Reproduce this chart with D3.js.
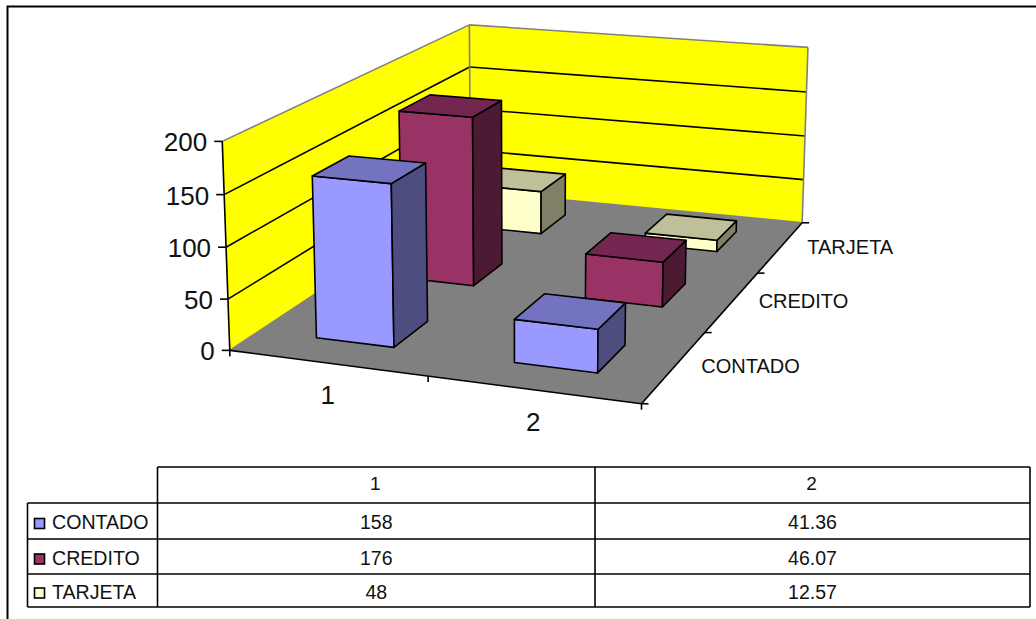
<!DOCTYPE html>
<html><head><meta charset="utf-8">
<script src="https://cdnjs.cloudflare.com/ajax/libs/d3/7.8.5/d3.min.js"></script>
<style>html,body{margin:0;padding:0;background:#fff;overflow:hidden}svg{display:block}text{font-family:"Liberation Sans",Arial,sans-serif;fill:#111}</style>
</head><body><svg id="c" width="1036" height="619"></svg>
<script>
// ---- data ----
const categories = ["1", "2"];
const seriesNames = ["CONTADO", "CREDITO", "TARJETA"];
const contado = [158, 41.36];
const credito = [176, 46.07];
const tarjeta = [48, 12.57];
const cellLabels = [["158", "41.36"], ["176", "46.07"], ["48", "12.57"]];
const valueTicks = [0, 50, 100, 150, 200];
const colFront = ["#9999FF", "#993366", "#FFFFCC"];
const colTop = ["#7373BF", "#732650", "#BFBF99"];
const colSide = ["#4D4D80", "#4D1A33", "#808066"];

const seriesValues = [contado, credito, tarjeta];
const svg = d3.select("#c");

// ---- projection calibrated from the plot box corners (u,v,w -> px) ----
const calib = [
  [0,0,0, 230.5,351],[1,0,0, 641,404],[1,1,0, 802.5,222],[0,1,0, 470,191],
  [0,0,1, 222,140.5],[0,1,1, 469.5,25],[1,1,1, 808,48]
];
function solve(A, b) {
  const n = b.length, M = A.map((r,i)=>[...r,b[i]]);
  for (let i=0;i<n;i++){
    let p=i; for(let k=i+1;k<n;k++) if(Math.abs(M[k][i])>Math.abs(M[p][i])) p=k;
    [M[i],M[p]]=[M[p],M[i]];
    for(let k=0;k<n;k++){ if(k===i) continue; const f=M[k][i]/M[i][i];
      for(let j=i;j<=n;j++) M[k][j]-=f*M[i][j]; }
  }
  return M.map((r,i)=>r[n]/r[i]);
}
const rows=[], rhs=[];
calib.forEach(([u,v,w,x,y])=>{
  rows.push([u,v,w,1,0,0,0,0,-x*u,-x*v,-x*w]); rhs.push(x);
  rows.push([0,0,0,0,u,v,w,1,-y*u,-y*v,-y*w]); rhs.push(y);
});
const ATA=d3.range(11).map(i=>d3.range(11).map(j=>d3.sum(rows,r=>r[i]*r[j])));
const ATb=d3.range(11).map(i=>d3.sum(rows,(r,k)=>r[i]*rhs[k]));
const m=solve(ATA,ATb);
function proj(u,v,w){
  const d=m[8]*u+m[9]*v+m[10]*w+1;
  return [(m[0]*u+m[1]*v+m[2]*w+m[3])/d,(m[4]*u+m[5]*v+m[6]*w+m[7])/d];
}

// ---- scales ----
const xBand=d3.scaleBand().domain(categories).range([0,1]).paddingInner(0.6).paddingOuter(0.3);
const zBand=d3.scaleBand().domain(seriesNames).range([0,1]).paddingInner(0.6).paddingOuter(0.3);
const xCenter=d3.scalePoint().domain(categories).range([0,1]).padding(0.5);
const zCenter=d3.scalePoint().domain(seriesNames).range([0,1]).padding(0.5);
const yS=d3.scaleLinear().domain([0,200]).range([0,1]);
const depthDx=d3.scaleLinear().domain([1/6,5/6]).range([-16,-10]);
const depthDy=d3.scaleLinear().domain([1/6,5/6]).range([-4,-2]);
const line=d3.line();
const SW=1.6;
const poly=(pts,fill,stroke,sw)=>svg.append("path").attr("d",line(pts)+"Z").attr("fill",fill).attr("stroke",stroke||"none").attr("stroke-width",sw||0).attr("stroke-linejoin","round");
const seg=(a,b,stroke,sw)=>svg.append("line").attr("x1",a[0]).attr("y1",a[1]).attr("x2",b[0]).attr("y2",b[1]).attr("stroke",stroke).attr("stroke-width",sw);

// ---- frame ----
svg.append("path").attr("d","M1040,6.5H7.5V625").attr("fill","none").attr("stroke","#000").attr("stroke-width",2);

// ---- walls and floor ----
poly([proj(0,0,0),proj(0,1,0),proj(0,1,1),proj(0,0,1)],"#FFFF00");
poly([proj(0,1,0),proj(1,1,0),proj(1,1,1),proj(0,1,1)],"#FFFF00");
poly([proj(0,0,0),proj(1,0,0),proj(1,1,0),proj(0,1,0)],"#808080");
valueTicks.slice(1,-1).forEach(t=>{
  seg(proj(0,0,yS(t)),proj(0,1,yS(t)),"#000",SW);
  seg(proj(0,1,yS(t)),proj(1,1,yS(t)),"#000",SW);
});
[[proj(0,0,1),proj(0,1,1)],[proj(0,1,1),proj(1,1,1)],[proj(0,1,0),proj(0,1,1)],[proj(1,1,0),proj(1,1,1)],[proj(0,1,0),proj(1,1,0)],[proj(0,0,0),proj(0,1,0)]]
  .forEach(([a,b])=>seg(a,b,"#808080",SW));

// ---- axes ----
seg(proj(0,0,0),proj(0,0,1),"#000",SW);
seg(proj(0,0,0),proj(1,0,0),"#000",SW);
seg(proj(1,0,0),proj(1,1,0),"#000",SW);
valueTicks.forEach(t=>{
  const p=proj(0,0,yS(t));
  seg([p[0]-8,p[1]],p,"#000",SW);
  svg.append("text").attr("x",p[0]-15).attr("y",p[1]+3).attr("text-anchor","end").attr("dominant-baseline","middle").attr("font-size",26).text(t);
});
[0,0.5,1].forEach(u=>{const p=proj(u,0,0); seg(p,[p[0],p[1]+6],"#000",SW);});
[0,1/3,2/3,1].forEach(v=>{const p=proj(1,v,0); seg(p,[p[0]+7,p[1]],"#000",SW);});
categories.forEach(c=>{
  const p=proj(xCenter(c),0,0);
  svg.append("text").attr("x",p[0]+0.5).attr("y",p[1]+34).attr("text-anchor","middle").attr("dominant-baseline","middle").attr("font-size",26).text(c);
});
seriesNames.forEach(s=>{
  const v=zCenter(s), p=proj(1.1,v,0);
  svg.append("text").attr("x",p[0]+depthDx(v)).attr("y",p[1]+depthDy(v)).attr("dominant-baseline","middle").attr("font-size",20).text(s);
});

// ---- bars, back to front ----
d3.range(seriesNames.length-1,-1,-1).forEach(si=>{
  categories.forEach((c,ci)=>{
    const u0=xBand(c),u1=u0+xBand.bandwidth();
    const v0=zBand(seriesNames[si]),v1=v0+zBand.bandwidth();
    const w=yS(seriesValues[si][ci]);
    poly([proj(u0,v0,0),proj(u1,v0,0),proj(u1,v0,w),proj(u0,v0,w)],colFront[si],"#000",SW);
    poly([proj(u1,v0,0),proj(u1,v1,0),proj(u1,v1,w),proj(u1,v0,w)],colSide[si],"#000",SW);
    poly([proj(u0,v0,w),proj(u1,v0,w),proj(u1,v1,w),proj(u0,v1,w)],colTop[si],"#000",SW);
  });
});

// ---- data table ----
const colX=[27.5,157.5,595,1030];
const rowY=[467,503,539,574,607];
const tline=(x1,y1,x2,y2)=>svg.append("line").attr("x1",x1).attr("y1",y1).attr("x2",x2).attr("y2",y2).attr("stroke","#000").attr("stroke-width",1.6);
tline(colX[1],rowY[0],colX[3],rowY[0]);
rowY.slice(1).forEach(y=>tline(colX[0],y,colX[3],y));
tline(colX[0],rowY[1],colX[0],rowY[4]);
colX.slice(1).forEach(x=>tline(x,rowY[0],x,rowY[4]));
categories.forEach((c,i)=>{
  svg.append("text").attr("x",(colX[i+1]+colX[i+2])/2-1).attr("y",(rowY[0]+rowY[1])/2).attr("text-anchor","middle").attr("dominant-baseline","middle").attr("font-size",19).text(c);
});
seriesNames.forEach((s,i)=>{
  const cy=(rowY[i+1]+rowY[i+2])/2+3;
  svg.append("rect").attr("x",34.5).attr("y",cy-5.5).attr("width",10).attr("height",10).attr("fill",colFront[i]).attr("stroke","#000").attr("stroke-width",1.6);
  svg.append("text").attr("x",52).attr("y",cy).attr("dominant-baseline","middle").attr("font-size",19.6).text(s);
  categories.forEach((c,j)=>{
    svg.append("text").attr("x",(colX[j+1]+colX[j+2])/2).attr("y",cy).attr("text-anchor","middle").attr("dominant-baseline","middle").attr("font-size",19.5).text(cellLabels[i][j]);
  });
});
</script></body></html>
